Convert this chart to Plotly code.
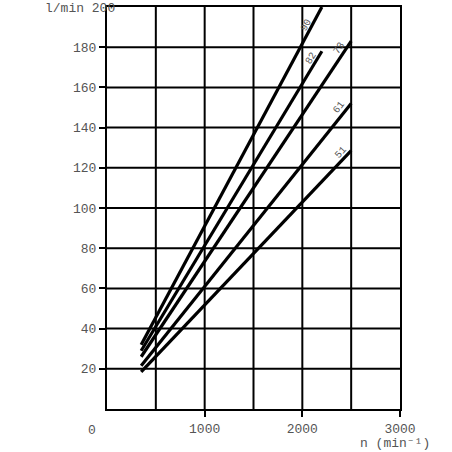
import plotly.graph_objects as go

# displacement curves (cm3) : start/end points
sizes = ["90", "82", "73", "61", "51"]
n_pts = [[350, 2200], [350, 2200], [350, 2500], [350, 2500], [350, 2500]]
q_pts = [[32, 200], [29, 178], [26, 183], [21.5, 152], [18.5, 128.5]]

# label positions along each curve
lab_n = [2037, 2089, 2375, 2375, 2396]
lab_q = [191, 174.5, 179.5, 150, 127.5]
lab_ang = [-62, -59, -56, -52, -48]

x_ticks = [1000, 2000, 3000]
y_ticks = [20, 40, 60, 80, 100, 120, 140, 160, 180]

font = dict(family="Liberation Mono, Courier New, monospace", size=13, color="#555")

W, H = 452, 452
L, T = 107, 7
pw, ph = 293, 402
R, B = W - L - pw, H - T - ph

def paper(px, py):
    # pixel -> paper coords
    return (px - L) / pw, (H - B - py) / ph

fig = go.Figure()

for name, xs, ys in zip(sizes, n_pts, q_pts):
    fig.add_trace(go.Scatter(x=xs, y=ys, mode="lines", name=name,
                             line=dict(color="black", width=3.2),
                             showlegend=False, hoverinfo="skip"))

for name, x, y, a in zip(sizes, lab_n, lab_q, lab_ang):
    fig.add_annotation(x=x, y=y, text=name, showarrow=False, textangle=a,
                       font=dict(family=font["family"], size=10, color="#555"))

for txt, px, py, xa in [("l/min 200", 117, 8, "right"),
                        ("0", 92, 430, "center"),
                        ("n (min\u207b\u00b9)", 358, 443, "left")]:
    ax, ay = paper(px, py)
    fig.add_annotation(x=ax, y=ay, xref="paper", yref="paper", text=txt,
                       showarrow=False, xanchor=xa, yanchor="middle", font=font)

for v in y_ticks:
    fig.add_hline(y=v, line=dict(color="black", width=2), layer="below")
for v in [500, 1000, 1500, 2000, 2500]:
    fig.add_vline(x=v, line=dict(color="black", width=2), layer="below")

fig.update_layout(
    width=W, height=H,
    margin=dict(l=L, r=R, t=T, b=B, autoexpand=False),
    paper_bgcolor="white", plot_bgcolor="white",
    font=font,
    xaxis=dict(range=[0, 3000], showgrid=False, showline=True,
               linecolor="black", linewidth=2, mirror=True, zeroline=False,
               tickmode="array", tickvals=x_ticks,
               ticktext=[str(v) for v in x_ticks],
               ticks="outside", ticklen=6, tickwidth=2, tickcolor="black",
               ticklabelstandoff=0),
    yaxis=dict(range=[0, 200], showgrid=False, showline=True,
               linecolor="black", linewidth=2, mirror=True, zeroline=False,
               tickmode="array", tickvals=y_ticks,
               ticktext=[str(v) for v in y_ticks],
               ticks="outside", ticklen=6, tickwidth=2, tickcolor="black"),
)

fig.write_html("out.html", config={"displayModeBar": False},
               post_script="document.body.style.margin='0';")
